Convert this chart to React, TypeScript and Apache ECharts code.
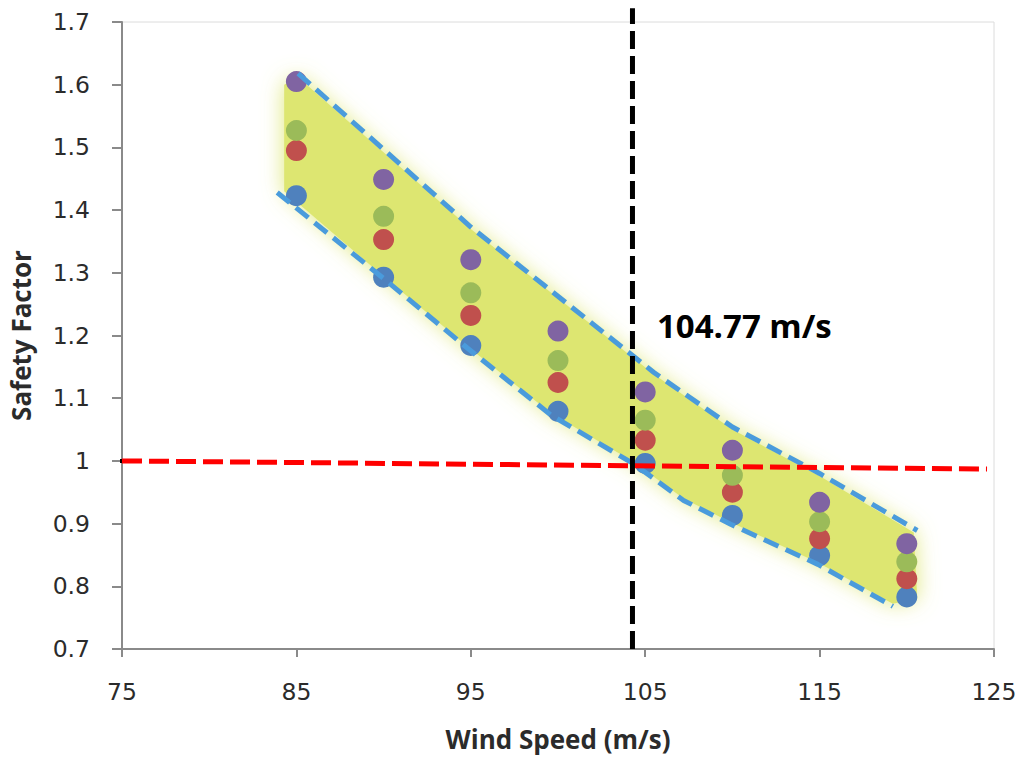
import React, { useEffect, useRef } from "react";
import * as echarts from "echarts";

const windSpeeds = [85, 90, 95, 100, 105, 110, 115, 120];
const seriesBlue = [1.423, 1.293, 1.184, 1.079, 0.996, 0.913, 0.849, 0.783];
const seriesRed = [1.495, 1.353, 1.232, 1.125, 1.033, 0.95, 0.876, 0.812];
const seriesGreen = [1.527, 1.39, 1.268, 1.16, 1.065, 0.977, 0.903, 0.839];
const seriesPurple = [1.605, 1.449, 1.321, 1.207, 1.11, 1.017, 0.934, 0.868];

const upperBound = [[85.1, 1.618], [95.0, 1.373], [105.5, 1.141], [110.0, 1.054], [115.0, 0.98], [120.6, 0.889]];
const lowerBound = [[83.9, 1.428], [90.0, 1.291], [94.8, 1.18], [99.6, 1.073], [104.3, 0.996], [107.2, 0.937], [109.9, 0.899], [114.9, 0.835], [119.2, 0.768]];
const bandPolygon = [
  [84.3, 1.6], [85.1, 1.612], [95.0, 1.37], [105.5, 1.138], [110.0, 1.05], [115.0, 0.976], [120.4, 0.886],
  [120.6, 0.78], [119.2, 0.772], [114.9, 0.838], [109.9, 0.902], [107.2, 0.94], [104.3, 0.999], [99.6, 1.076],
  [94.8, 1.183], [90.0, 1.294], [84.3, 1.43],
];
const thresholdLine = [[75, 1.0], [124.6, 0.987]];
const thresholdTick = [[74.2, 1.0], [75, 1.0]];
const criticalSpeedLine = [[104.27, 0.7], [104.27, 1.722]];
const criticalLabel = "104.77 m/s";

const xTicks = { min: 75, max: 125, interval: 10 };
const yTicks = { min: 0.7, max: 1.7, interval: 0.1 };

const pairs = (ys: number[]) => windSpeeds.map((x, i) => [x, ys[i]]);

export default function App() {
  const ref = useRef<HTMLDivElement>(null);
  useEffect(() => {
    document.body.style.margin = "0";
    const chart = echarts.init(ref.current!, undefined, { renderer: "svg" });
    const labelFont = { fontFamily: "DejaVu Sans", fontSize: 23.5, color: "#2b2b2b" };
    const axisGray = "#8a8a8a";
    const titleFont = { fontFamily: "Open Sans", fontWeight: "bold", fontSize: 26, color: "#2b2b2b" };
    const dot = (name: string, color: string, ys: number[], z: number) => ({
      name,
      type: "scatter",
      data: pairs(ys),
      symbol: "circle",
      symbolSize: 21,
      itemStyle: { color, opacity: 1 },
      z,
    });
    chart.setOption({
      animation: false,
      grid: { left: 121, right: 33, top: 22, bottom: 110, show: true, borderColor: "#dcdcdc", borderWidth: 1 },
      xAxis: {
        type: "value",
        min: xTicks.min,
        max: xTicks.max,
        interval: xTicks.interval,
        name: "Wind Speed (m/s)",
        nameLocation: "middle",
        nameGap: 77,
        nameTextStyle: titleFont,
        axisLine: { show: true, lineStyle: { color: axisGray, width: 2 } },
        axisTick: { show: true, length: 8, lineStyle: { color: axisGray, width: 2 } },
        axisLabel: { ...labelFont, margin: 31 },
        splitLine: { show: false },
      },
      yAxis: {
        type: "value",
        min: yTicks.min,
        max: yTicks.max,
        interval: yTicks.interval,
        name: "Safety Factor",
        nameLocation: "middle",
        nameGap: 88,
        nameRotate: 90,
        nameTextStyle: titleFont,
        axisLine: { show: true, lineStyle: { color: axisGray, width: 2 } },
        axisTick: { show: true, length: 10, lineStyle: { color: axisGray, width: 2 } },
        axisLabel: { ...labelFont, margin: 32 },
        splitLine: { show: false },
      },
      graphic: [
        {
          type: "text",
          left: 657,
          top: 309,
          style: { text: criticalLabel, fontFamily: "Open Sans", fontWeight: "bold", fontSize: 33, fill: "#000000" },
          z: 100,
        },
      ],
      series: [
        {
          type: "custom",
          data: [0],
          z: 1,
          silent: true,
          renderItem: (_params: any, api: any) => ({
            type: "polygon",
            shape: { points: bandPolygon.map((p) => api.coord(p)) },
            style: {
              fill: "#dde671",
              shadowBlur: 22,
              shadowColor: "rgba(221,230,113,0.95)",
            },
          }),
        },
        dot("Blue", "#4F81BD", seriesBlue, 3),
        dot("Red", "#C0504D", seriesRed, 4),
        dot("Green", "#9BBB59", seriesGreen, 5),
        dot("Purple", "#8064A2", seriesPurple, 6),
        {
          type: "line",
          data: upperBound,
          symbol: "none",
          lineStyle: { color: "#4a9bdc", width: 5, type: [16, 8] },
          z: 7,
        },
        {
          type: "line",
          data: lowerBound,
          symbol: "none",
          lineStyle: { color: "#4a9bdc", width: 5, type: [16, 8] },
          z: 7,
        },
        {
          type: "line",
          data: thresholdLine,
          symbol: "none",
          lineStyle: { color: "#ff0000", width: 5, type: [20, 7] },
          z: 8,
        },
        {
          type: "line",
          data: thresholdTick,
          symbol: "none",
          clip: false,
          lineStyle: { color: "#000000", width: 4 },
          z: 8,
        },
        {
          type: "line",
          data: criticalSpeedLine,
          symbol: "none",
          clip: false,
          lineStyle: { color: "#000000", width: 5, type: [18, 7] },
          z: 9,
        },
      ],
    });
    return () => chart.dispose();
  }, []);
  return <div ref={ref} style={{ width: 1027, height: 759 }} />;
}
